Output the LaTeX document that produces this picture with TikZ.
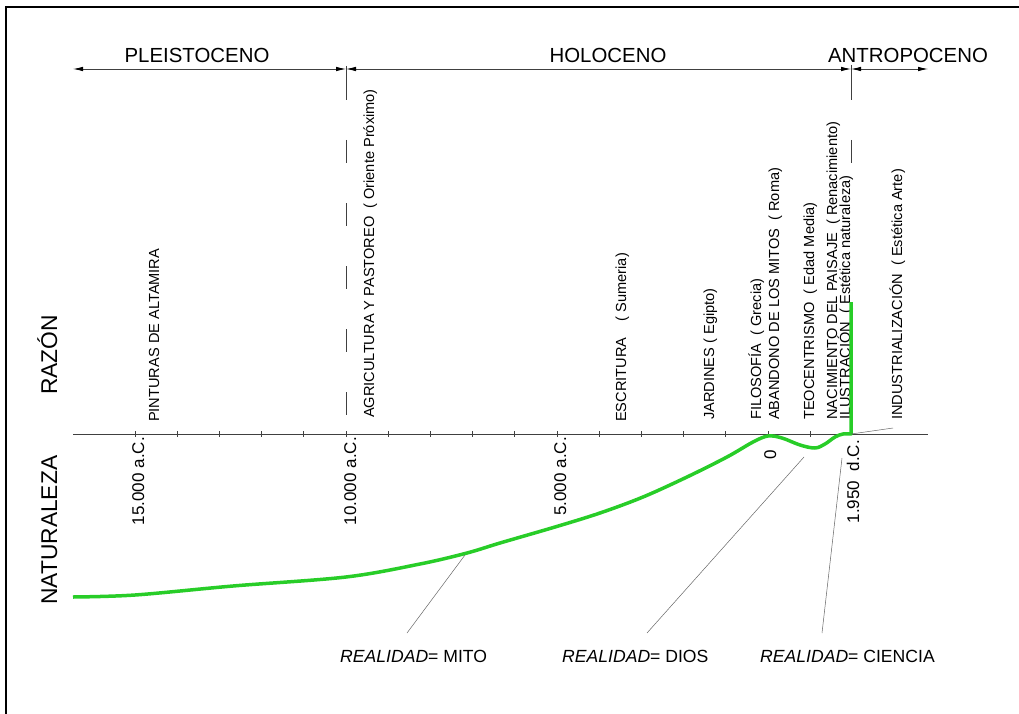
\documentclass[tikz,border=0pt]{standalone}
\usepackage{fontspec}
\setmainfont{Liberation Sans}
\usetikzlibrary{arrows.meta}
\definecolor{curvegreen}{RGB}{40,205,40}

\begin{document}
\begin{tikzpicture}
        [x=1pt, y=-1pt, >={Latex[length=10pt, width=4.5pt, black]},
         fina/.style={draw=black!75, line width=0.8pt},
         guia/.style={draw=black!60, line width=0.5pt},
         periodo/.style={anchor=base, inner sep=0pt, font=\fontsize{20.4}{22}\selectfont},
         evento/.style={rotate=90, anchor=base west, inner sep=0pt, font=\fontsize{14.6}{16}\selectfont},
         fecha/.style={rotate=90, anchor=base east, inner sep=0pt, font=\fontsize{17}{19}\selectfont},
         lado/.style={rotate=90, anchor=base west, inner sep=0pt, font=\fontsize{22.8}{25}\selectfont},
         realidad/.style={anchor=base west, inner sep=0pt, font=\fontsize{17.6}{19}\selectfont}]

        \useasboundingbox (0,0) rectangle (1019,714);
        \draw[line width=2pt] (6,714) -- (6,7) -- (1019,7);

        \coordinate (p-ini) at (73,69);
        \coordinate (p-holo) at (346,69);
        \coordinate (p-antro) at (851,69);
        \coordinate (p-fin) at (928,69);
        \draw[fina, <->] (p-ini) -- (p-holo);
        \draw[fina, <->] (p-holo) -- (p-antro);
        \draw[fina, <->] (p-antro) -- (p-fin);

        \node[periodo] (pleisto) at (197,63) {PLEISTOCENO};
        \node[periodo] (holo) at (608,63) {HOLOCENO};
        \node[periodo] (antro) at (908,63) {ANTROPOCENO};

        \draw[fina] (346,66) -- (346,100);
        \draw[fina, dash pattern=on 23pt off 40pt, dash phase=23pt] (346,100) -- (346,434);
        \draw[fina] (851,65) -- (851,100);
        \draw[fina, dash pattern=on 23pt off 40pt, dash phase=23pt] (851,100) -- (851,170);

        \coordinate (eje-ini) at (73,434);
        \coordinate (eje-fin) at (928,434);
        \draw[fina] (eje-ini) -- (eje-fin);
        \foreach \k in {0,...,16}
        \draw[fina] (135+42.2*\k,431) -- (135+42.2*\k,437);

        \node[fecha] (f-15000) at (144,437) {15.000 a.C.};
        \node[fecha] (f-10000) at (356,437) {10.000 a.C.};
        \node[fecha] (f-5000) at (566,437) {5.000 a.C.};
        \node[fecha] (f-0) at (776,450) {0};
        \node[fecha] (f-1950) at (859,440) {1.950\ \ d.C.};

        \node[evento] (altamira) at (159,422) {PINTURAS DE ALTAMIRA};
        \node[evento] (agricultura) at (374,418) {AGRICULTURA Y PASTOREO\ \ ( Oriente Próximo)};
        \node[evento] (escritura) at (626,422) {ESCRITURA\ \ \ \ ( Sumeria)};
        \node[evento] (jardines) at (714,420) {JARDINES ( Egipto)};
        \node[evento] (filosofia) at (761,420) {FILOSOFÍA\ \ ( Grecia)};
        \node[evento] (mitos) at (779,420) {ABANDONO DE LOS MITOS\ \ ( Roma)};
        \node[evento] (teocentrismo) at (814,420) {TEOCENTRISMO\ \ ( Edad Media)};
        \node[evento] (paisaje) at (837,420) {NACIMIENTO DEL PAISAJE\ \ ( Renacimiento)};
        \node[evento] (ilustracion) at (850,420) {ILUSTRACIÓN\ \ ( Estética naturaleza)};
        \node[evento] (industria) at (902,420) {INDUSTRIALIZACIÓN\ \ ( Estética Arte)};

        \node[lado] (razon) at (57,395) {RAZÓN};
        \node[lado] (naturaleza) at (57,605) {NATURALEZA};

        \draw[curvegreen, line width=3.5pt, line join=round]
        plot[smooth, tension=0.55] coordinates {(73,597) (135,595) (233,586) (346,577) (420,564)
        (467,553) (500,543) (555,527) (600,513) (643,497) (687,477) (727,457) (753,442)
        (768,436) (782,438) (800,445) (815,448) (825,444) (835,437) (843,434) (851,434)}
        -- (851,302);

        \coordinate (mito-pt) at (465,555);
        \coordinate (dios-pt) at (804,457);
        \coordinate (ciencia-pt) at (842,458);
        \coordinate (industria-pt) at (851,434);
        \coordinate (mito-fin) at (407,633);
        \coordinate (dios-fin) at (647,633);
        \coordinate (ciencia-fin) at (822,633);
        \coordinate (industria-fin) at (893,428);
        \draw[guia] (mito-pt) -- (mito-fin);
        \draw[guia] (dios-pt) -- (dios-fin);
        \draw[guia] (ciencia-pt) -- (ciencia-fin);
        \draw[guia] (industria-pt) -- (industria-fin);

        \node[realidad] (r-mito) at (340,662) {\textit{REALIDAD}= MITO};
        \node[realidad] (r-dios) at (562,662) {\textit{REALIDAD}= DIOS};
        \node[realidad] (r-ciencia) at (760,662) {\textit{REALIDAD}= CIENCIA};

    \end{tikzpicture}
\end{document}
